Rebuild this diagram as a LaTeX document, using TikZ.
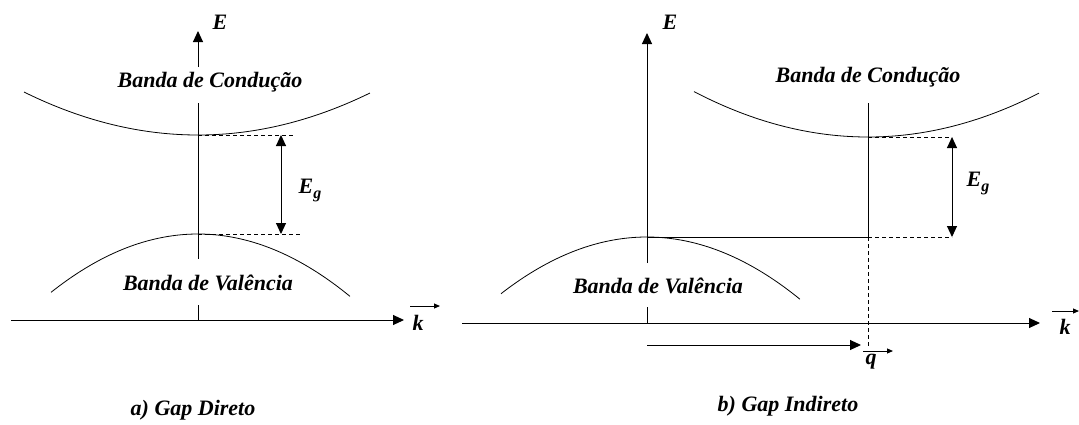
\documentclass[tikz,border=0pt]{standalone}
\usepackage{fontspec}
\setmainfont{Liberation Serif}
\usetikzlibrary{arrows.meta}
\begin{document}
\begin{tikzpicture}[x=1pt,y=-1pt,
  font=\fontsize{22}{24}\selectfont\bfseries\itshape,
  axisline/.style={line width=1pt},
  axis/.style={line width=1pt,-{Triangle[length=11pt,width=10pt]}},
  band/.style={line width=0.8pt},
  guide/.style={line width=0.9pt,dash pattern=on 4pt off 3pt},
  gaparrow/.style={line width=1pt,{Triangle[length=11pt,width=10pt]}-{Triangle[length=11pt,width=10pt]}},
  vecarrow/.style={line width=1pt,-{Triangle[length=6pt,width=5pt]}},
  lbl/.style={inner sep=0pt}]
\useasboundingbox (0,0) rectangle (1079,424);

% ---------- a) Gap Direto ----------
\coordinate (LO) at (198,320);
\coordinate (Lks) at (11,320);
\coordinate (Lke) at (404,320);
\draw[axis] (Lks) -- (Lke);
\coordinate (LEtip) at (198,31);
\coordinate (LEa) at (198,67);
\draw[axis] (LEa) -- (LEtip);
\coordinate (LEb) at (198,103);
\coordinate (LEc) at (198,259);
\draw[axisline] (LEb) -- (LEc);
\coordinate (LEd) at (198,305);
\draw[axisline] (LEd) -- (LO);
\draw[band] plot[domain=-1.74:1.72,samples=80] ({198+100*\x},{135-14.2*\x*\x});
\draw[band] plot[domain=-1.47:1.52,samples=80] ({198+100*\x},{234+27*\x*\x});
\coordinate (Lcb) at (198,135);
\coordinate (LcbR) at (293,135);
\coordinate (Lvb) at (198,234);
\coordinate (LvbR) at (300,234);
\draw[guide] (Lcb) -- (LcbR);
\draw[guide] (Lvb) -- (LvbR);
\coordinate (LgT) at (281,135);
\coordinate (LgB) at (281,234);
\draw[gaparrow] (LgT) -- (LgB);
\node[lbl] (LE) at (220,22) {E};
\node[lbl] (LEg) at (310,190) {E\raisebox{-5pt}{\fontsize{16}{16}\selectfont g}};
\node[lbl] (Lcond) at (210,82) {Banda de Condução};
\node[lbl] (Lval) at (208,283) {Banda de Valência};
\node[lbl] (Lk) at (418,323) {k};
\coordinate (Lkv1) at (410,306);
\coordinate (Lkv2) at (440,306);
\draw[vecarrow] (Lkv1) -- (Lkv2);
\node[lbl] (Lcap) at (193,410) {a) Gap Direto};

% ---------- b) Gap Indireto ----------
\coordinate (RO) at (647,323);
\coordinate (Rks) at (462,323);
\coordinate (Rke) at (1040,323);
\draw[axis] (Rks) -- (Rke);
\coordinate (REtip) at (647,33);
\coordinate (REa) at (647,263);
\draw[axis] (REa) -- (REtip);
\coordinate (REd) at (647,307);
\draw[axisline] (REd) -- (RO);
\draw[band] plot[domain=-1.74:1.71,samples=80] ({868+100*\x},{137-15*\x*\x});
\draw[band] plot[domain=-1.46:1.53,samples=80] ({647+100*\x},{237+26.6*\x*\x});
\coordinate (Rtop) at (868,103);
\coordinate (Rcb) at (868,137);
\coordinate (Rc) at (868,237);
\coordinate (Rvb) at (647,237);
\coordinate (Rbot) at (868,348);
\draw[axisline] (Rtop) -- (Rc);
\draw[axisline] (Rvb) -- (Rc);
\coordinate (RcbR) at (952,137);
\coordinate (RcR) at (952,237);
\draw[guide] (Rcb) -- (RcbR);
\draw[guide] (Rc) -- (RcR);
\draw[guide] (Rc) -- (Rbot);
\draw[gaparrow] (RcbR) -- (RcR);
\coordinate (Rq1) at (647,345);
\coordinate (Rq2) at (861,345);
\draw[axis] (Rq1) -- (Rq2);
\coordinate (Rqv1) at (863,351);
\coordinate (Rqv2) at (893,351);
\draw[vecarrow] (Rqv1) -- (Rqv2);
\node[lbl] (Rq) at (871,362) {q};
\node[lbl] (RE) at (670,22) {E};
\node[lbl] (REg) at (978,183) {E\raisebox{-5pt}{\fontsize{16}{16}\selectfont g}};
\node[lbl] (Rcond) at (868,77) {Banda de Condução};
\node[lbl] (Rval) at (658,286) {Banda de Valência};
\node[lbl] (Rk) at (1065,327) {k};
\coordinate (Rkv1) at (1052,311);
\coordinate (Rkv2) at (1079,311);
\draw[vecarrow] (Rkv1) -- (Rkv2);
\node[lbl] (Rcap) at (788,406) {b) Gap Indireto};
\end{tikzpicture}
\end{document}
